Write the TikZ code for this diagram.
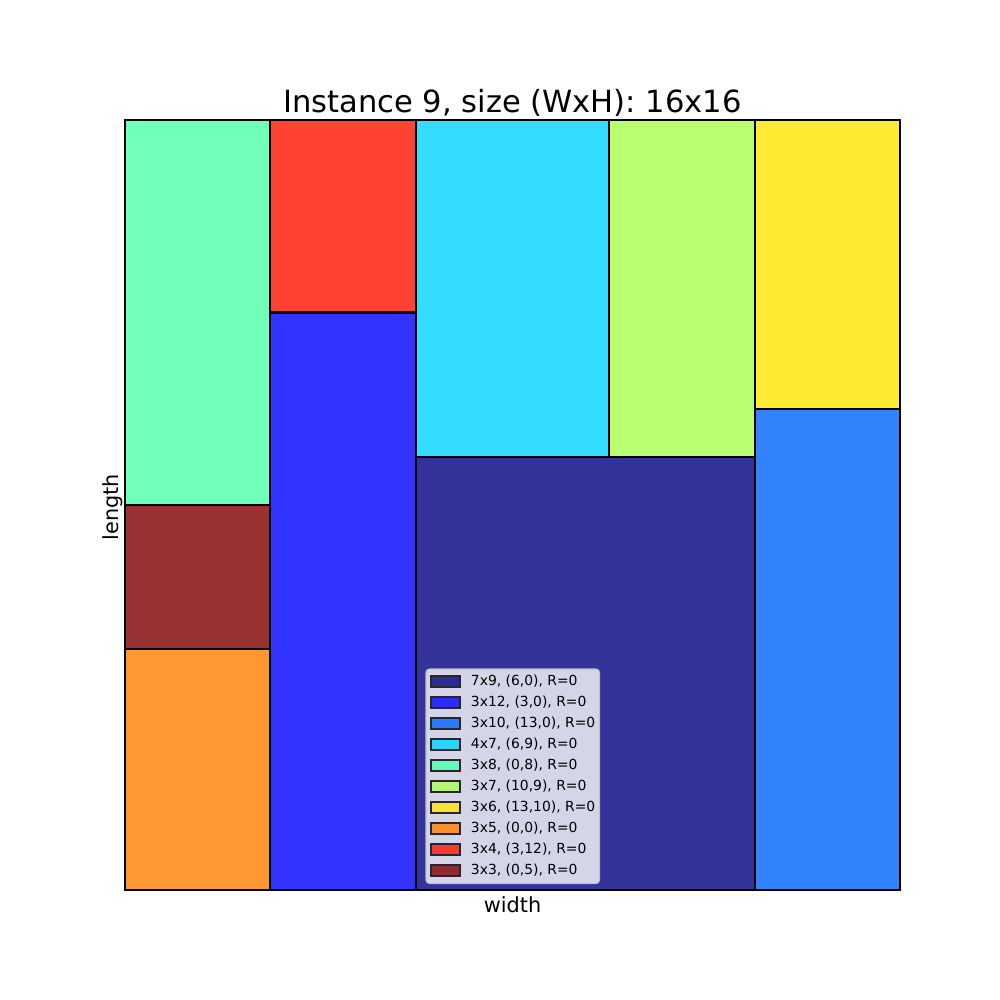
\documentclass[tikz,border=0pt]{standalone}
\usepackage{fontspec}
\setmainfont{DejaVu Sans}
\definecolor{c0}{RGB}{51,51,153}
\definecolor{c1}{RGB}{51,51,255}
\definecolor{c2}{RGB}{51,130,255}
\definecolor{c3}{RGB}{51,221,255}
\definecolor{c4}{RGB}{113,255,186}
\definecolor{c5}{RGB}{186,255,113}
\definecolor{c6}{RGB}{255,235,51}
\definecolor{c7}{RGB}{255,151,51}
\definecolor{c8}{RGB}{255,67,51}
\definecolor{c9}{RGB}{153,51,51}
\definecolor{l0}{RGB}{43,43,149}
\definecolor{l1}{RGB}{43,43,251}
\definecolor{l2}{RGB}{43,122,251}
\definecolor{l3}{RGB}{43,212,251}
\definecolor{l4}{RGB}{104,247,182}
\definecolor{l5}{RGB}{178,247,109}
\definecolor{l6}{RGB}{247,227,47}
\definecolor{l7}{RGB}{247,143,47}
\definecolor{l8}{RGB}{247,59,47}
\definecolor{l9}{RGB}{145,43,47}
\definecolor{legbg}{RGB}{213,213,232}
\definecolor{legedge}{RGB}{190,190,210}
\definecolor{patchedge}{RGB}{38,38,48}
\begin{document}
\begin{tikzpicture}[x=0.72pt,y=-0.72pt,
  rectbox/.style={draw=black,line width=1.6pt},
  legpatch/.style={draw=patchedge,line width=1.4pt},
  legtext/.style={font=\fontsize{10pt}{12pt}\selectfont,anchor=base west,inner sep=0pt,text=black},
  axlabel/.style={font=\fontsize{15pt}{18pt}\selectfont,inner sep=0pt,text=black},
  titlelabel/.style={font=\fontsize{22pt}{26pt}\selectfont,inner sep=0pt,text=black}]
\useasboundingbox (0,0) rectangle (1000,1000);
\fill[white] (0,0) rectangle (1000,1000);
% packed rectangles
\foreach \u/\v/\w/\h/\c in {6/0/7/9/c0, 3/0/3/12/c1, 13/0/3/10/c2, 6/9/4/7/c3, 0/8/3/8/c4, 10/9/3/7/c5, 13/10/3/6/c6, 0/0/3/5/c7, 3/12/3/4/c8, 0/5/3/3/c9}{
  \draw[rectbox,fill=\c] ({125+\u*48.4375},{890-\v*48.125}) rectangle ({125+(\u+\w)*48.4375},{890-(\v+\h)*48.125});
}
% axes frame
\draw[line width=0.8pt] (125,120) rectangle (900,890);
% labels
\node[titlelabel,anchor=base] (title) at (512.5,112) {Instance 9, size (WxH): 16x16};
\node[axlabel,anchor=base] (xlab) at (512.5,912) {width};
\node[axlabel,anchor=base,rotate=90] (ylab) at (118,507) {length};
% legend
\draw[fill=legbg,draw=legedge,line width=0.8pt,rounded corners=2.5pt] (426,669) rectangle (599.5,883.5);
\foreach \lc/\txt [count=\i from 0] in {l0/{7x9, (6,0), R=0}, l1/{3x12, (3,0), R=0}, l2/{3x10, (13,0), R=0}, l3/{4x7, (6,9), R=0}, l4/{3x8, (0,8), R=0}, l5/{3x7, (10,9), R=0}, l6/{3x6, (13,10), R=0}, l7/{3x5, (0,0), R=0}, l8/{3x4, (3,12), R=0}, l9/{3x3, (0,5), R=0}}{
  \pgfmathsetmacro{\yc}{681.3+21*\i}
  \draw[legpatch,fill=\lc] (431,{\yc-5.5}) rectangle (460,{\yc+5.5});
  \node[legtext] (lt\i) at (470.7,{\yc+4.5}) {\txt};
}
\end{tikzpicture}
\end{document}
